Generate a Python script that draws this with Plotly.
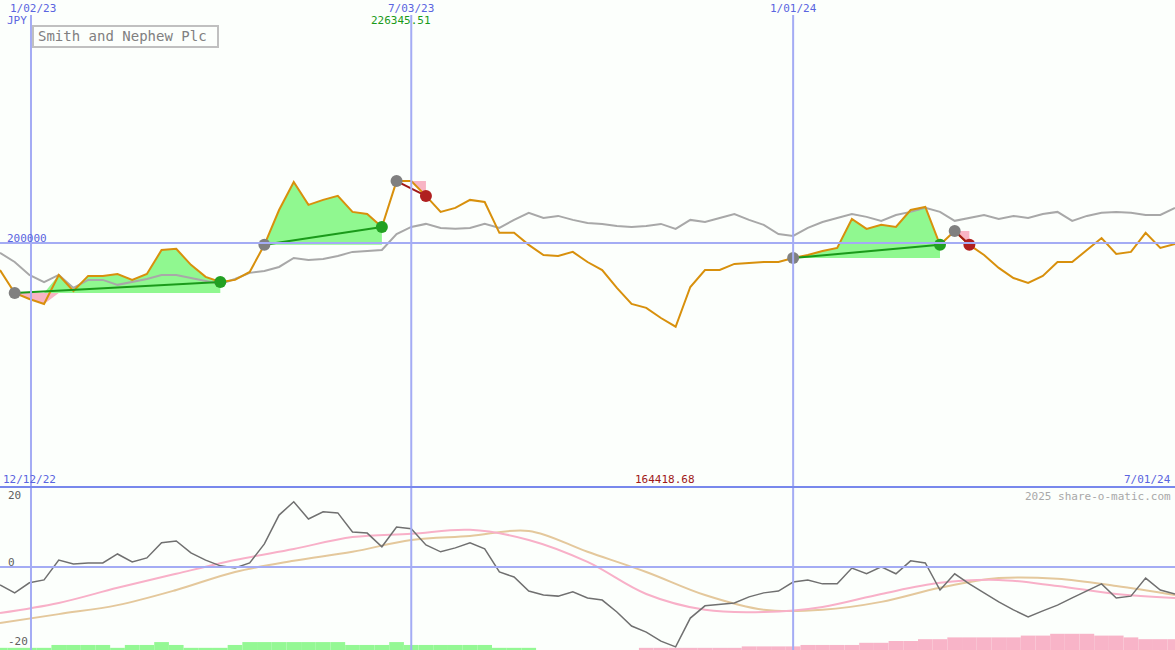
import plotly.graph_objects as go

price = [188500,178750,176200,174100,186400,179600,186000,186000,186800,184300,186800,197000,197500,190700,185600,183400,184300,187700,199200,214000,225900,216200,218300,220000,213200,212300,206800,226300,226300,220000,213200,214900,218300,217400,204300,204300,199200,194900,194500,196200,191900,188500,180900,174100,172400,168100,164400,181300,188500,188500,191100,191500,191900,191900,193600,194900,196600,197900,210200,206000,207700,206800,214000,215300,199200,205100,199200,194900,189400,185100,183000,186000,191900,191900,197000,202100,195300,196200,204300,197900,199600]
bench = [195800,191900,186400,183400,186400,180900,184300,184300,182200,183400,184700,186400,186400,185100,183900,182600,184700,187300,188100,189800,193600,192800,193200,194500,196200,196600,197000,203800,206800,208100,206400,206000,206400,208100,206400,209800,212800,210600,211500,209800,208500,208100,207200,206800,207200,208100,206000,209800,208900,210600,212300,209800,207700,203800,203000,206400,208900,210600,212300,211100,209400,211900,213200,214900,213200,209400,210600,211900,210200,211500,210600,212300,213200,209400,211500,212800,213200,212800,211900,211900,214900]
osc = [-5.0,-7.2,-4.4,-3.6,1.9,0.8,1.1,1.1,3.6,1.4,2.5,6.7,7.2,3.9,1.9,0.3,-0.3,1.1,6.4,14.4,18.1,13.3,15.3,15.0,9.7,9.4,5.6,11.1,10.6,6.1,4.2,5.3,6.7,5.0,-1.4,-2.8,-6.7,-7.8,-8.1,-6.9,-8.6,-9.2,-12.5,-16.4,-18.1,-20.6,-22.2,-14.2,-10.8,-10.3,-10.0,-8.3,-7.2,-6.7,-4.2,-3.6,-4.7,-4.7,-0.3,-1.9,0,-1.9,1.7,1.1,-6.4,-1.9,-4.7,-7.2,-9.7,-11.9,-13.9,-12.2,-10.6,-8.6,-6.7,-4.7,-8.6,-8.1,-3.1,-6.4,-7.5]
smooth_x = list(range(0, 81, 4))
pink = [-12.8,-10.0,-5.8,-1.9,1.9,5.0,8.3,9.2,10.3,7.5,1.4,-7.5,-11.9,-12.5,-11.1,-7.5,-4.4,-3.6,-5.3,-7.5,-8.6]
tan = [-15.6,-13.1,-10.6,-6.4,-1.4,1.7,4.2,7.5,8.6,10.0,4.2,-1.4,-7.8,-11.9,-11.9,-9.7,-5.8,-3.1,-3.3,-5.3,-7.8]
hist_green = [0.6,0.6,0.6,0.6,1.4,1.4,1.4,1.4,0.6,1.4,1.4,2.2,1.4,0.6,0.6,0.6,1.4,2.2,2.2,2.2,2.2,2.2,2.2,2.2,1.4,1.4,1.4,2.2,1.4,1.4,1.4,1.4,1.4,1.4,0.6,0.6,0.6]
hist_pink = [0.6,0.6,0.6,0.6,0.6,0.6,0.6,1,1,1,1,1.4,1.4,1.4,1.4,2,2,2.5,2.5,3,3,3.5,3.5,3.5,3.5,3.5,4,4,4.5,4.5,4.5,4,4,3.5,3,3,3]
trades = [(1,15,'win'),(18,26,'win'),(27,29,'loss'),(54,64,'win'),(65,66,'loss')]
vlines = [2.11, 28, 54]
top_dates = ['1/02/23','7/03/23','1/01/24']

BASE = -23.06
GRID = '#a4acf4'
x = list(range(len(price)))
fig = go.Figure()

for e, xx, kind in trades:
    seg = list(range(e, xx + 1))
    b = price[e]
    fig.add_trace(go.Scatter(x=seg, y=[b]*len(seg), mode='lines', line=dict(width=0), showlegend=False, hoverinfo='skip'))
    fig.add_trace(go.Scatter(x=seg, y=[max(price[i], b) for i in seg], mode='lines', line=dict(width=0),
                             fill='tonexty', fillcolor='#90f890', showlegend=False, hoverinfo='skip'))
    fig.add_trace(go.Scatter(x=seg, y=[b]*len(seg), mode='lines', line=dict(width=0), showlegend=False, hoverinfo='skip'))
    fig.add_trace(go.Scatter(x=seg, y=[min(price[i], b) for i in seg], mode='lines', line=dict(width=0),
                             fill='tonexty', fillcolor='#f8b4c4', showlegend=False, hoverinfo='skip'))

fig.add_trace(go.Scatter(x=x, y=bench, mode='lines', line=dict(color='#a8a8a8', width=2), showlegend=False))
fig.add_trace(go.Scatter(x=x, y=price, mode='lines', line=dict(color='#d8900c', width=2), showlegend=False))

for e, xx, kind in trades:
    c = '#1a9a1a' if kind == 'win' else '#a01818'
    fig.add_trace(go.Scatter(x=[e, xx], y=[price[e], price[xx]], mode='lines', line=dict(color=c, width=2), showlegend=False))
    fig.add_trace(go.Scatter(x=[e], y=[price[e]], mode='markers', marker=dict(color='#808080', size=12), showlegend=False))
    fig.add_trace(go.Scatter(x=[xx], y=[price[xx]], mode='markers',
                             marker=dict(color='#22a022' if kind == 'win' else '#b02020', size=12), showlegend=False))

fig.add_trace(go.Bar(x=list(range(len(hist_green))), y=hist_green, base=BASE, marker=dict(color='#94f894', line=dict(width=0)),
                     width=1.0, xaxis='x2', yaxis='y2', showlegend=False))
fig.add_trace(go.Bar(x=list(range(44, 44 + len(hist_pink))), y=hist_pink, base=BASE, marker=dict(color='#f8b4c8', line=dict(width=0)),
                     width=1.0, xaxis='x2', yaxis='y2', showlegend=False))
fig.add_trace(go.Scatter(x=smooth_x, y=tan, mode='lines', line=dict(color='#e4c89c', width=2, shape='spline'), xaxis='x2', yaxis='y2', showlegend=False))
fig.add_trace(go.Scatter(x=smooth_x, y=pink, mode='lines', line=dict(color='#f8b0c8', width=2, shape='spline'), xaxis='x2', yaxis='y2', showlegend=False))
fig.add_trace(go.Scatter(x=x, y=osc, mode='lines', line=dict(color='#707070', width=1.5), xaxis='x2', yaxis='y2', showlegend=False))

shapes = []
for v in vlines:
    shapes.append(dict(type='line', xref='x', yref='paper', x0=v, x1=v, y0=0, y1=0.977, line=dict(color=GRID, width=2), layer='above'))
shapes.append(dict(type='line', xref='paper', yref='y', x0=0, x1=1, y0=200000, y1=200000, line=dict(color=GRID, width=2)))
shapes.append(dict(type='line', xref='paper', yref='y2', x0=0, x1=1, y0=0, y1=0, line=dict(color=GRID, width=2)))
shapes.append(dict(type='line', xref='paper', yref='paper', x0=0, x1=1, y0=0.2508, y1=0.2508, line=dict(color='#7888ec', width=2)))
shapes.append(dict(type='rect', xref='paper', yref='paper', x0=33/1175, x1=218/1175, y0=1-47/650, y1=1-26/650,
                   line=dict(color='#c0c0c0', width=2), fillcolor='rgba(0,0,0,0)'))

F = 'DejaVu Sans Mono'
def ann(t, px, py, color, size=11, xa='center'):
    return dict(text=t, x=px/1175, y=1-py/650, xref='paper', yref='paper', showarrow=False,
                font=dict(family=F, size=size, color=color), xanchor=xa, yanchor='middle')

anns = [ann(top_dates[0], 33, 8, '#5a64e0'), ann(top_dates[1], 411, 8, '#5a64e0'), ann(top_dates[2], 793, 8, '#5a64e0'),
        ann('JPY', 5, 20, '#5a64e0', xa='left'), ann('226345.51', 401, 21, '#1a9a1a'),
        ann('Smith and Nephew Plc', 36, 36, '#808080', size=14, xa='left'),
        ann('200000', 5, 238, '#5a64e0', xa='left'),
        ann('12/12/22', 1, 479, '#5a64e0', xa='left'), ann('164418.68', 665, 479, '#a01818'),
        ann('7/01/24', 1173, 479, '#5a64e0', xa='right'),
        ann('2025 share-o-matic.com', 1173, 496, '#a8a8a8', xa='right'),
        ann('20', 6, 495, '#606060', xa='left'), ann('0', 6, 562, '#606060', xa='left'), ann('-20', 6, 641, '#606060', xa='left')]

fig.update_layout(
    width=1175, height=650, margin=dict(l=0, r=0, t=0, b=0),
    paper_bgcolor='#fcfffc', plot_bgcolor='#fcfffc', barmode='overlay',
    xaxis=dict(range=[0, 80], visible=False, domain=[0, 1]),
    yaxis=dict(range=[96300, 296900], visible=False, domain=[0.2508, 0.977]),
    xaxis2=dict(range=[0, 80], visible=False, anchor='y2'),
    yaxis2=dict(range=[BASE, 22.2], visible=False, domain=[0, 0.2508]),
    shapes=shapes, annotations=anns,
)
fig.write_html('out.html', config={'displayModeBar': False})
with open('out.html', encoding='utf-8') as f:
    html = f.read()
html = html.replace('<head>', '<head><style>html,body{margin:0;padding:0;overflow:hidden;}</style>', 1)
with open('out.html', 'w', encoding='utf-8') as f:
    f.write(html)
